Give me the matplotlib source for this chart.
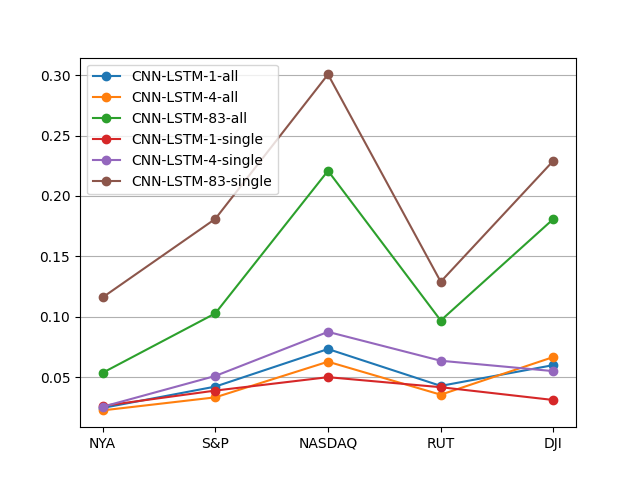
import matplotlib
matplotlib.use("Agg")
import matplotlib.pyplot as plt

indices = ["NYA", "S&P", "NASDAQ", "RUT", "DJI"]
labels = ["CNN-LSTM-1-all", "CNN-LSTM-4-all", "CNN-LSTM-83-all",
          "CNN-LSTM-1-single", "CNN-LSTM-4-single", "CNN-LSTM-83-single"]
cnn1_all = [0.0245, 0.0422, 0.0733, 0.0428, 0.0600]
cnn4_all = [0.0225, 0.0333, 0.0628, 0.0355, 0.0667]
cnn83_all = [0.0536, 0.1028, 0.2208, 0.0969, 0.1810]
cnn1_single = [0.0262, 0.0389, 0.0500, 0.0417, 0.0311]
cnn4_single = [0.0255, 0.0510, 0.0875, 0.0636, 0.0550]
cnn83_single = [0.1160, 0.1810, 0.3006, 0.1290, 0.2292]

series = [cnn1_all, cnn4_all, cnn83_all, cnn1_single, cnn4_single, cnn83_single]

fig, ax = plt.subplots(figsize=(6.4, 4.8), dpi=100)
for vals, lab in zip(series, labels):
    ax.plot(indices, vals, marker="o", label=lab)
ax.grid(axis="y")
ax.legend(loc="upper left")
fig.savefig("out.png")
